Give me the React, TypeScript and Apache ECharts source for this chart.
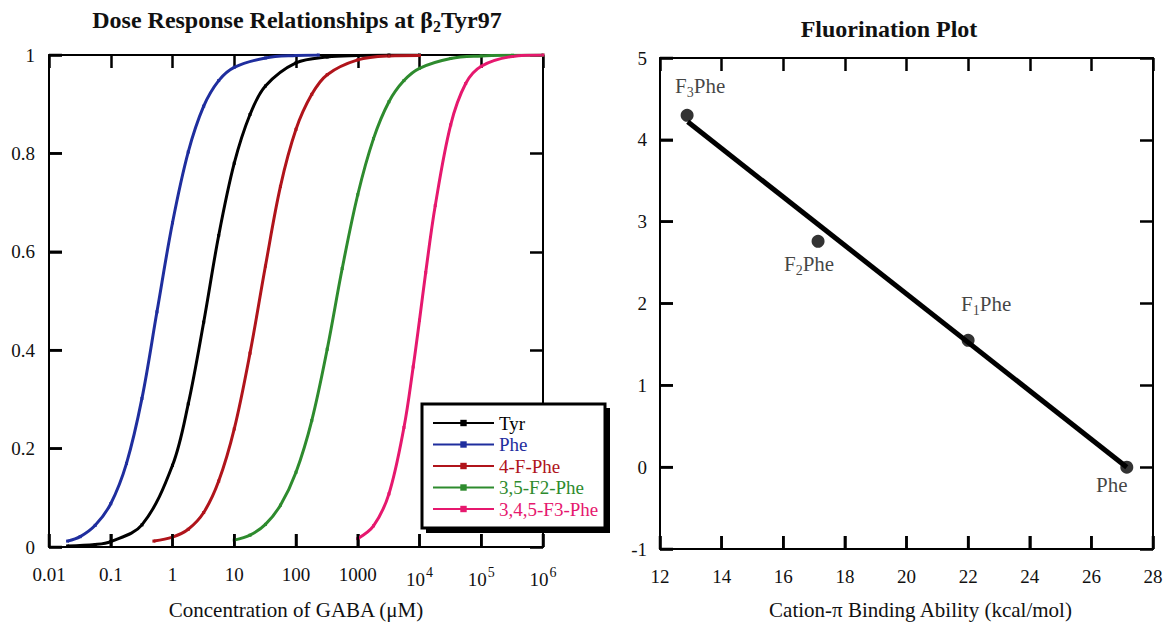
import React, { useEffect, useRef } from "react";
import * as echarts from "echarts";

// ---------- Data ----------
const seriesNames = ["Tyr", "Phe", "4-F-Phe", "3,5-F2-Phe", "3,4,5-F3-Phe"];
const seriesColors = ["#000000", "#1f2e9e", "#b0141b", "#2e8b2e", "#e6186e"];

const tyrConc = [0.02, 0.056, 0.1, 0.32, 1, 1.8, 3.2, 5.6, 10, 18, 32, 100, 320, 1000, 3200, 10000];
const tyrResp = [0.002, 0.005, 0.011, 0.045, 0.166, 0.291, 0.457, 0.633, 0.78, 0.879, 0.937, 0.984, 0.996, 0.999, 1, 1];

const pheConc = [0.02, 0.032, 0.056, 0.1, 0.18, 0.32, 0.56, 1, 1.8, 3.2, 5.6, 10, 32, 100, 230];
const pheResp = [0.012, 0.021, 0.044, 0.088, 0.17, 0.302, 0.478, 0.659, 0.803, 0.896, 0.948, 0.975, 0.994, 0.999, 1.0];

const fPheConc = [0.5, 1, 1.8, 3.2, 5.6, 10, 18, 32, 56, 100, 180, 320, 1000, 3200, 10000];
const fPheResp = [0.012, 0.02, 0.036, 0.07, 0.134, 0.24, 0.394, 0.571, 0.733, 0.849, 0.92, 0.96, 0.99, 0.998, 0.999];

const f2PheConc = [10, 18, 32, 56, 100, 180, 320, 560, 1000, 1800, 3200, 5600, 10000, 32000, 100000, 320000, 1000000];
const f2PheResp = [0.014, 0.024, 0.046, 0.085, 0.152, 0.257, 0.402, 0.566, 0.716, 0.83, 0.905, 0.948, 0.973, 0.993, 0.998, 0.9995, 0.9999];

const f3PheConc = [1000, 1800, 3200, 5600, 7900, 10000, 12600, 18000, 32000, 56000, 100000, 320000, 1000000];
const f3PheResp = [0.017, 0.043, 0.108, 0.243, 0.366, 0.461, 0.558, 0.694, 0.858, 0.942, 0.977, 0.997, 1.0];

const doseTickValues = [0.01, 0.1, 1, 10, 100, 1000, 10000, 100000, 1000000];
const doseTickLabels = ["0.01", "0.1", "1", "10", "100", "1000", "10{sup|4}", "10{sup|5}", "10{sup|6}"];
const respTickValues = [0, 0.2, 0.4, 0.6, 0.8, 1];

// Fluorination plot
const fluorNames = ["F{sub|3}Phe", "F{sub|2}Phe", "F{sub|1}Phe", "Phe"];
const bindingAbility = [12.88, 17.13, 22.0, 27.15];
const logEC50Ratio = [4.3, 2.76, 1.55, 0.0];
const fitX = [12.9, 27.15];
const fitY = [4.22, 0.0];
const bindingTickValues = [12, 14, 16, 18, 20, 22, 24, 26, 28];
const ratioTickValues = [-1, 0, 1, 2, 3, 4, 5];

const FONT = "'Liberation Serif', 'DejaVu Serif', serif";

export default function App() {
  const ref = useRef<HTMLDivElement>(null);

  useEffect(() => {
    if (!ref.current) return;
    const chart = echarts.init(ref.current, undefined, { renderer: "svg" });

    const zip = (xs: number[], ys: number[]) => xs.map((x, i) => [x, ys[i]]);
    const doseData = [
      zip(tyrConc, tyrResp),
      zip(pheConc, pheResp),
      zip(fPheConc, fPheResp),
      zip(f2PheConc, f2PheResp),
      zip(f3PheConc, f3PheResp),
    ];

    const axisLine = () => ({ show: true, onZero: false, lineStyle: { color: "#000", width: 2 } });
    const tickIn = () => ({ show: true, inside: true, length: 13, lineStyle: { color: "#000", width: 2.5 } });
    const labelStyle = () => ({ fontFamily: FONT, fontSize: 19, color: "#111" });
    const nameStyle = () => ({ fontFamily: FONT, fontSize: 21, color: "#111" });

    const doseLabel = (v: number) => {
      const e = Math.round(Math.log10(v));
      return doseTickLabels[e + 2] ?? "";
    };

    const logX = (gridIndex: number, position: string, extra: any = {}) => ({
      type: "log",
      gridIndex,
      logBase: 10,
      min: 0.01,
      max: 1000000,
      position,
      axisLine: axisLine(),
      axisTick: tickIn(),
      splitLine: { show: false },
      axisLabel: { show: false },
      ...extra,
    });
    const valAxis = (gridIndex: number, position: string, min: number, max: number, interval: number, extra: any = {}) => ({
      type: "value",
      gridIndex,
      min,
      max,
      interval,
      position,
      axisLine: axisLine(),
      axisTick: tickIn(),
      splitLine: { show: false },
      axisLabel: { show: false },
      ...extra,
    });

    // inward tick marks for the labelled (bottom / left) sides, placed via the axes' scales
    const tickSeries = (axisIdx: number, data: number[][], horizontalAxis: boolean) => ({
      type: "custom",
      name: "ticks",
      xAxisIndex: axisIdx,
      yAxisIndex: axisIdx,
      silent: true,
      clip: false,
      z: 10,
      data,
      renderItem: (_params: any, api: any) => {
        const p = api.coord([api.value(0), api.value(1)]);
        const shape = horizontalAxis
          ? { x1: p[0], y1: p[1], x2: p[0], y2: p[1] - 13 }
          : { x1: p[0], y1: p[1], x2: p[0] + 13, y2: p[1] };
        return { type: "line", shape, style: { stroke: "#000", lineWidth: 2.5 } };
      },
    });

    const labelOffsets: number[][] = [
      [13, -29],
      [-9, 23],
      [18, -36],
      [-15, 18],
    ];

    const option: any = {
      animation: false,
      backgroundColor: "#fff",
      title: [
        {
          text: "{a|Dose Response Relationships at β}{sub|2}{a|Tyr97}",
          left: 292,
          top: 1,
          textAlign: "center",
          textStyle: {
            rich: {
              a: { fontFamily: FONT, fontSize: 24, fontWeight: "bold", color: "#111" },
              sub: { fontFamily: FONT, fontSize: 16, fontWeight: "bold", color: "#111", padding: [12, 0, 0, 0] },
            },
          },
        },
        {
          text: "Fluorination Plot",
          left: 884,
          top: 12,
          textAlign: "center",
          textStyle: { fontFamily: FONT, fontSize: 24, fontWeight: "bold", color: "#111" },
        },
      ],
      grid: [
        { left: 49, top: 55, width: 494, height: 495 },
        { left: 660, top: 58, width: 493, height: 495 },
      ],
      xAxis: [
        logX(0, "bottom", {
          axisLabel: {
            ...labelStyle(),
            margin: 18,
            formatter: doseLabel,
            rich: {
              sup: { fontFamily: FONT, fontSize: 14, color: "#111", padding: [0, 0, 14, 1] },
            },
          },
          name: "Concentration of GABA (μM)",
          nameLocation: "middle",
          nameGap: 52,
          nameTextStyle: nameStyle(),
        }),
        valAxis(1, "bottom", 12, 28, 2, {
          axisLabel: { ...labelStyle(), margin: 18 },
          name: "Cation-π Binding Ability (kcal/mol)",
          nameLocation: "middle",
          nameGap: 50,
          nameTextStyle: { ...nameStyle(), padding: [0, 0, 0, 28] },
        }),
        logX(0, "top"),
        valAxis(1, "top", 12, 28, 2),
      ],
      yAxis: [
        valAxis(0, "left", 0, 1, 0.2, { axisLabel: { ...labelStyle(), margin: 14 } }),
        valAxis(1, "left", -1, 5, 1, { axisLabel: { ...labelStyle(), margin: 13 } }),
        valAxis(0, "right", 0, 1, 0.2),
        valAxis(1, "right", -1, 5, 1),
      ],
      legend: {
        orient: "vertical",
        left: 432,
        top: 413,
        z: 100,
        itemWidth: 61,
        itemHeight: 8,
        itemGap: 1.5,
        padding: 0,
        textStyle: { fontFamily: FONT, fontSize: 19, lineHeight: 20 },
        data: seriesNames.map((n, i) => ({ name: n, textStyle: { color: seriesColors[i] } })),
      },
      graphic: [
        { type: "rect", z: 90, shape: { x: 426, y: 408, width: 184, height: 125 }, style: { fill: "#000" } },
        {
          type: "rect",
          z: 91,
          shape: { x: 422, y: 404, width: 183, height: 124 },
          style: { fill: "#fff", stroke: "#000", lineWidth: 3 },
        },
      ],
      series: [
        ...doseData.map((d, i) => ({
          type: "line",
          name: seriesNames[i],
          xAxisIndex: 0,
          yAxisIndex: 0,
          data: d,
          smooth: 0.35,
          symbol: "rect",
          symbolSize: 3,
          showSymbol: true,
          color: seriesColors[i],
          lineStyle: { width: 3, color: seriesColors[i] },
          itemStyle: { color: seriesColors[i] },
          z: 3,
        })),
        tickSeries(0, doseTickValues.map((v) => [v, 0]), true),
        tickSeries(0, respTickValues.map((v) => [0.01, v]), false),
        tickSeries(1, bindingTickValues.map((v) => [v, -1]), true),
        tickSeries(1, ratioTickValues.map((v) => [12, v]), false),
        {
          type: "line",
          name: "fit",
          xAxisIndex: 1,
          yAxisIndex: 1,
          data: fitX.map((x, i) => [x, fitY[i]]),
          symbol: "none",
          lineStyle: { width: 5, color: "#000" },
          z: 3,
        },
        {
          type: "scatter",
          name: "points",
          xAxisIndex: 1,
          yAxisIndex: 1,
          symbol: "circle",
          symbolSize: 13,
          itemStyle: { color: "#000" },
          z: 4,
          data: bindingAbility.map((x, i) => ({
            value: [x, logEC50Ratio[i]],
            label: {
              show: true,
              position: "inside",
              offset: labelOffsets[i],
              formatter: fluorNames[i],
              fontFamily: FONT,
              fontSize: 21,
              color: "#111",
              rich: {
                sub: { fontFamily: FONT, fontSize: 14, color: "#111", padding: [12, 0, 0, 0] },
              },
            },
          })),
        },
      ],
    };

    chart.setOption(option);
    return () => chart.dispose();
  }, []);

  return <div ref={ref} style={{ position: "absolute", left: 0, top: 0, width: 1166, height: 625 }} />;
}
